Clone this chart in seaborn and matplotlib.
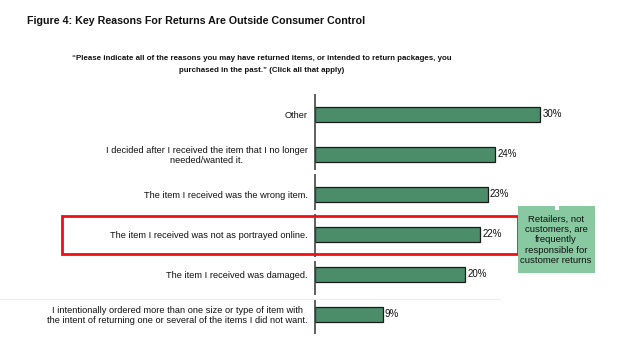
import matplotlib
matplotlib.use("Agg")
import matplotlib.pyplot as plt
import seaborn as sns
import pandas as pd
from matplotlib.patches import Rectangle

categories = [
    "Other",
    "I decided after I received the item that I no longer\nneeded/wanted it.",
    "The item I received was the wrong item.",
    "The item I received was not as portrayed online.",
    "The item I received was damaged.",
    "I intentionally ordered more than one size or type of item with\nthe intent of returning one or several of the items I did not want.",
]
values = [30, 24, 23, 22, 20, 9]
value_labels = ["30%", "24%", "23%", "22%", "20%", "9%"]

title = "Figure 4: Key Reasons For Returns Are Outside Consumer Control"
subtitle = ("\u201cPlease indicate all of the reasons you may have returned items, or intended to return packages, you\n"
            "purchased in the past.\u201d (Click all that apply)")
callout = "Retailers, not\ncustomers, are\nfrequently\nresponsible for\ncustomer returns"

sns.set_theme(style="white")
plt.rcParams['font.family'] = ['Liberation Sans', 'DejaVu Sans']

df = pd.DataFrame({"reason": categories, "pct": values})

W, H = 642, 345
fig = plt.figure(figsize=(W / 100, H / 100), dpi=100)
fig.patch.set_facecolor("white")
ax = fig.add_axes([315 / W, 1 - 334 / H, 300 / W, 240 / H])

sns.barplot(data=df, x="pct", y="reason", orient="h", ax=ax,
            color="#4b8c69", saturation=1, width=0.375,
            edgecolor="#1a1a1a", linewidth=0.9)
ax.set_xlim(0, 40)
ax.set_ylim(5.5, -0.5)
ax.set_xlabel("")
ax.set_ylabel("")
ax.set_xticks([])
for s in ["top", "right", "bottom", "left"]:
    ax.spines[s].set_visible(False)
# broken category axis line
segs = [(-0.5, 1.4), (1.5, 2.4), (2.5, 3.575), (3.675, 4.525), (4.625, 5.5)]
for y0, y1 in segs:
    ax.plot([0, 0], [y0, y1], color="#444444", lw=1.2, clip_on=False, zorder=4,
            solid_capstyle="butt")
ax.tick_params(axis="y", length=0, pad=5, labelsize=6.65, labelcolor="#111111")
for lbl in ax.get_yticklabels():
    lbl.set_multialignment("center")

for i, (v, t) in enumerate(zip(values, value_labels)):
    ax.text(v + 0.3, i, t, va="center", ha="left", fontsize=7, color="#111111")

fig.text(27 / W, 1 - 20.5 / H, title, fontsize=7.7, fontweight="bold",
         ha="left", va="center", color="#111111")
fig.text(262 / W, 1 - 64.5 / H, subtitle, fontsize=5.65, fontweight="bold",
         ha="center", va="center", color="#111111", linespacing=2.0)

# faint separator line
fig.add_artist(plt.Line2D([0, 500 / W], [1 - 298.5 / H] * 2, transform=fig.transFigure,
                          color="#eeeeee", lw=0.8, zorder=1))
# red highlight rectangle
fig.add_artist(Rectangle((62 / W, 1 - 254 / H), (518 - 62) / W, (254 - 216) / H,
                         transform=fig.transFigure, fill=False,
                         edgecolor="#ee1111", linewidth=2.0, zorder=5))
# green callout
fig.add_artist(Rectangle((518 / W, 1 - 273 / H), (595 - 518) / W, (273 - 206) / H,
                         transform=fig.transFigure, facecolor="#88c9a2",
                         edgecolor="none", zorder=6))
fig.add_artist(Rectangle((555 / W, 1 - 210 / H), (559 - 555) / W, (210 - 206) / H,
                         transform=fig.transFigure, facecolor="white",
                         edgecolor="none", zorder=6))
fig.text(556 / W, 1 - 240 / H, callout, fontsize=6.8, ha="center", va="center",
         color="#111111", linespacing=1.2, zorder=7)

fig.savefig("out.png", dpi=100)
